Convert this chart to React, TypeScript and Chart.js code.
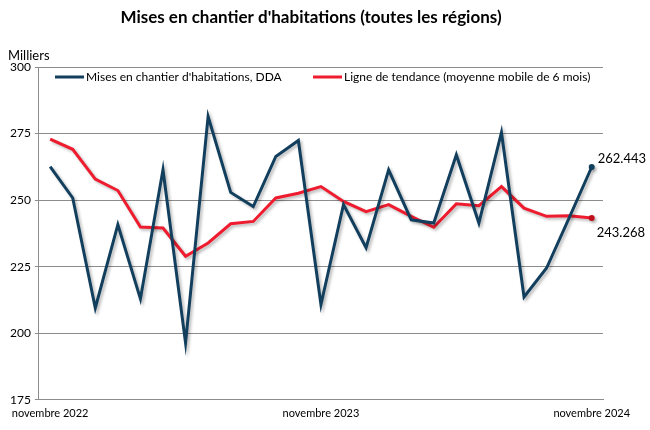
import React, { useEffect, useRef } from "react";
import { Chart, registerables } from "chart.js";

Chart.register(...registerables);

const months: string[] = [
  "novembre 2022", "décembre 2022", "janvier 2023", "février 2023", "mars 2023", "avril 2023",
  "mai 2023", "juin 2023", "juillet 2023", "août 2023", "septembre 2023", "octobre 2023",
  "novembre 2023", "décembre 2023", "janvier 2024", "février 2024", "mars 2024", "avril 2024",
  "mai 2024", "juin 2024", "juillet 2024", "août 2024", "septembre 2024", "octobre 2024",
  "novembre 2024",
];
const shownLabels: string[] = ["novembre 2022", "novembre 2023", "novembre 2024"];

const starts: number[] = [
  262.6, 250.8, 209.5, 240.8, 212.9, 261.4, 196.4, 281.4, 252.9, 247.6, 266.4, 272.4,
  210.8, 248.3, 232.1, 261.4, 242.6, 241.4, 267.0, 241.4, 275.4, 213.6, 224.5, 243.3,
  262.443,
];
const trend: number[] = [
  272.9, 269.1, 257.9, 253.6, 239.9, 239.5, 228.9, 233.9, 241.1, 242.0, 250.8, 252.6,
  255.1, 249.5, 245.7, 248.3, 243.9, 239.8, 248.6, 247.9, 255.1, 247.0, 243.9, 244.1,
  243.268,
];

const titleText = "Mises en chantier d'habitations (toutes les régions)";
const unitText = "Milliers";
const seriesNames: string[] = [
  "Mises en chantier d'habitations, DDA",
  "Ligne de tendance (moyenne mobile de 6 mois)",
];
const BLUE = "#123f5e";
const RED = "#ee1c2e";
const FONT = "Lato, 'Open Sans', sans-serif";

export default function App() {
  const ref = useRef<HTMLCanvasElement | null>(null);

  useEffect(() => {
    if (!ref.current) return;
    const last = months.length - 1;

    const shadowPlugin = {
      id: "shadow",
      beforeDatasetDraw(chart: any) {
        const ctx = chart.ctx;
        ctx.save();
        ctx.shadowColor = "rgba(0,0,0,0.28)";
        ctx.shadowBlur = 3;
        ctx.shadowOffsetX = 2;
        ctx.shadowOffsetY = 2;
      },
      afterDatasetDraw(chart: any) {
        chart.ctx.restore();
      },
    };

    const decoPlugin = {
      id: "deco",
      afterDraw(chart: any) {
        const ctx = chart.ctx;
        const area = chart.chartArea;
        ctx.save();
        // title
        ctx.fillStyle = "#000";
        ctx.font = `bold 17px ${FONT}`;
        ctx.textAlign = "center";
        ctx.textBaseline = "middle";
        ctx.fillText(titleText, 311, 18);
        // unit
        ctx.font = `13px ${FONT}`;
        ctx.textAlign = "left";
        ctx.fillText(unitText, 8, 56);
        // legend
        const ly = area.top + 10;
        const items = [
          { x: 55, color: BLUE, text: seriesNames[0] },
          { x: 313, color: RED, text: seriesNames[1] },
        ];
        items.forEach((it) => {
          ctx.strokeStyle = it.color;
          ctx.lineWidth = 3;
          ctx.beginPath();
          ctx.moveTo(it.x, ly);
          ctx.lineTo(it.x + 29, ly);
          ctx.stroke();
          ctx.fillStyle = "#000";
          ctx.font = `12px ${FONT}`;
          ctx.fillText(it.text, it.x + 31, ly);
        });
        // end labels
        ctx.font = `13px ${FONT}`;
        const p0 = chart.getDatasetMeta(0).data[last];
        const p1 = chart.getDatasetMeta(1).data[last];
        ctx.fillText(starts[last].toFixed(3), p0.x + 6, p0.y - 8);
        ctx.fillText(trend[last].toFixed(3), p1.x + 5, p1.y + 15);
        ctx.restore();
      },
    };

    const radii = (arr: number[]) => arr.map((_, i) => (i === last ? 3 : 0));

    const chart = new Chart(ref.current, {
      type: "line",
      data: {
        labels: months,
        datasets: [
          {
            label: seriesNames[0],
            data: starts,
            borderColor: BLUE,
            backgroundColor: BLUE,
            borderWidth: 3,
            pointRadius: radii(starts),
            pointBorderWidth: 0,
            tension: 0,
          },
          {
            label: seriesNames[1],
            data: trend,
            borderColor: RED,
            backgroundColor: "#c0101c",
            borderWidth: 3,
            pointRadius: radii(trend),
            pointBorderWidth: 0,
            tension: 0,
          },
        ],
      },
      options: {
        animation: false,
        responsive: false,
        devicePixelRatio: 1,
        layout: { padding: { top: 67, right: 47, left: 6, bottom: 3 } },
        plugins: {
          legend: { display: false },
          title: { display: false },
          tooltip: { enabled: false },
        },
        scales: {
          x: {
            offset: true,
            grid: { display: false, drawTicks: false },
            border: { display: true, color: "#8c8c8c", width: 1 },
            ticks: {
              autoSkip: false,
              maxRotation: 0,
              padding: 7,
              color: "#000",
              font: { family: FONT, size: 11 },
              callback: (v: any, i: number) =>
                shownLabels.includes(months[i]) ? months[i] : "",
            },
          },
          y: {
            min: 175,
            max: 300,
            ticks: {
              stepSize: 25,
              color: "#000",
              padding: 4,
              font: { family: FONT, size: 12 },
            },
            grid: {
              color: "#8c8c8c",
              drawTicks: true,
              tickLength: 4,
            },
            border: { display: true, color: "#8c8c8c" },
          },
        },
      },
      plugins: [shadowPlugin, decoPlugin],
    });
    return () => chart.destroy();
  }, []);

  return (
    <div style={{ position: "fixed", left: 0, top: 0, width: 650, height: 430, background: "#fff" }}>
      <canvas ref={ref} width={650} height={430} style={{ width: 650, height: 430 }} />
    </div>
  );
}
